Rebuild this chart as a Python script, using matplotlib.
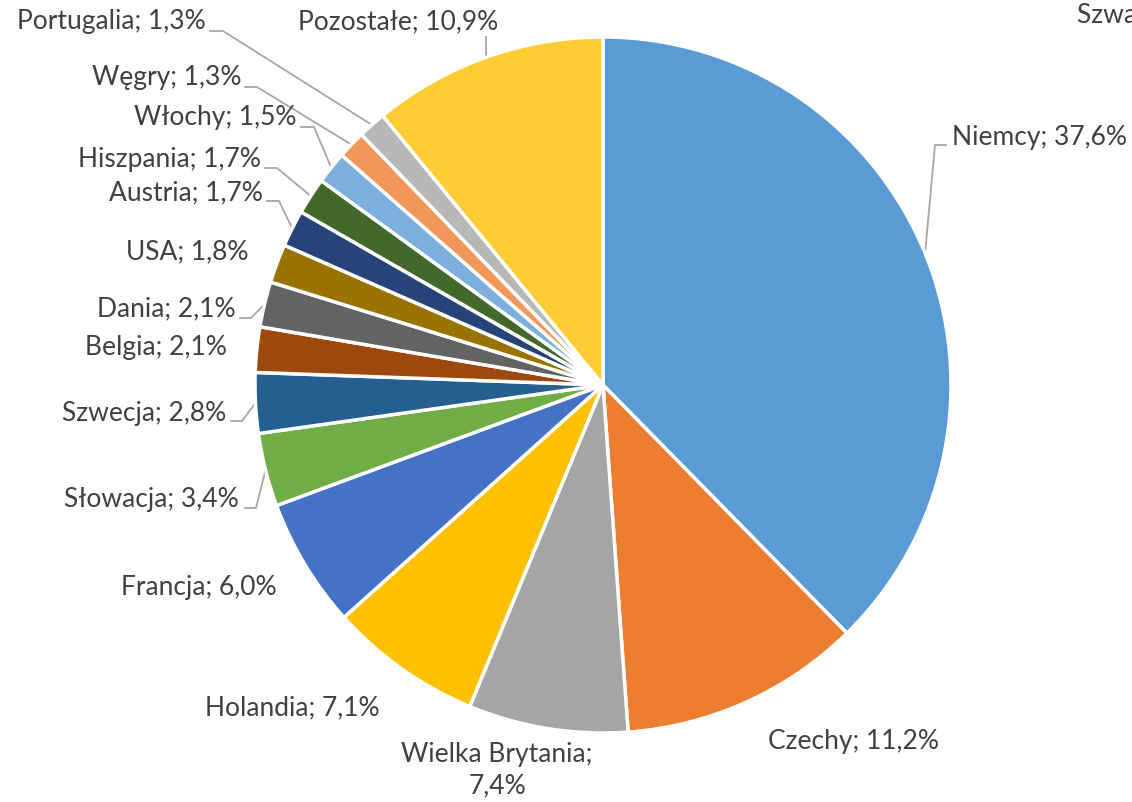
import numpy as np
import matplotlib
matplotlib.use("Agg")
import matplotlib.pyplot as plt

# dane
kraje = ["Niemcy", "Czechy", "Wielka Brytania", "Holandia", "Francja", "Słowacja",
         "Szwecja", "Belgia", "Dania", "USA", "Austria", "Hiszpania", "Włochy",
         "Węgry", "Portugalia", "Pozostałe"]
udzialy = [37.6, 11.2, 7.4, 7.1, 6.0, 3.4, 2.8, 2.1, 2.1, 1.8, 1.7, 1.7, 1.5, 1.3, 1.3, 10.9]
kolory = ["#5B9BD5", "#ED7D31", "#A5A5A5", "#FFC000", "#4472C4", "#70AD47",
          "#255E91", "#9E480E", "#636363", "#997300", "#264478", "#43682B",
          "#7CAFDD", "#F1975A", "#B7B7B7", "#FFCD33"]

W, H = 1132, 802
CX, CY, R = 603, 385, 348  # piksele

def py(y):
    return H - y

# położenie etykiet (px): x, y, ha, linia (x_start, x_kolano, y) albo None
etykiety = {
    "Niemcy": (952, 137, "left", (946, 935, 145)),
    "Czechy": (768, 742, "left", None),
    "Wielka Brytania": (497, 770, "center", None),
    "Holandia": (292, 708, "center", None),
    "Francja": (199, 587, "center", None),
    "Słowacja": (239, 500, "right", (245, 256, 508)),
    "Szwecja": (226, 413, "right", (231, 242, 421)),
    "Belgia": (227, 348, "right", None),
    "Dania": (236, 309, "right", (240, 251, 318)),
    "USA": (249, 252, "right", None),
    "Austria": (263, 193, "right", (267, 279, 201)),
    "Hiszpania": (261, 160, "right", (265, 277, 168)),
    "Włochy": (297, 118, "right", (301, 314, 127)),
    "Węgry": (241, 78, "right", (245, 257, 87)),
    "Portugalia": (206, 22, "right", (210, 223, 31)),
    "Pozostałe": (398, 22, "center", None),
}

plt.rcParams["font.family"] = ["Lato", "DejaVu Sans"]

fig = plt.figure(figsize=(W / 100, H / 100), dpi=100)
ax = fig.add_axes([0, 0, 1, 1])

ax.pie(udzialy, colors=kolory, startangle=90, counterclock=False,
       center=(CX, py(CY)), radius=R,
       wedgeprops=dict(edgecolor="white", linewidth=2.5))

ax.set_xlim(0, W)
ax.set_ylim(0, H)
ax.set_aspect("auto")
ax.axis("off")

szary = "#A6A6A6"
tekst = "#404040"
fs = 19

cum = np.cumsum([0] + udzialy[:-1])
suma = sum(udzialy)
for kraj, u, c0 in zip(kraje, udzialy, cum):
    x, y, ha, linia = etykiety[kraj]
    napis = f"{kraj}; {u:.1f}%".replace(".", ",")
    if kraj == "Wielka Brytania":
        napis = f"{kraj};\n{u:.1f}%".replace(".", ",")
    ax.text(x, py(y), napis, ha=ha, va="center", fontsize=fs, color=tekst,
            linespacing=1.3)
    # punkt na brzegu wycinka
    kat = np.deg2rad(90 - (c0 + u / 2) / suma * 360)
    wx = CX + R * np.cos(kat)
    wy = CY - R * np.sin(kat)
    if linia is not None:
        xs, xk, yl = linia
        ax.plot([xs, xk, wx], [py(yl), py(yl), py(wy)], color=szary, lw=1.3,
                zorder=0.5)

# krótka linia do "Pozostałe"
kat = np.deg2rad(90 - (cum[-1] + udzialy[-1] / 2) / suma * 360)
ax.plot([486, CX + R * np.cos(kat)], [py(37), py(CY - R * np.sin(kat))],
        color=szary, lw=1.3, zorder=0.5)

# etykieta ucięta przy prawej krawędzi (tak jak w oryginale)
ax.text(1077, py(15), "Szwajcaria; 1,0%", ha="left", va="center",
        fontsize=fs, color=tekst)

fig.savefig("out.png", dpi=100)
